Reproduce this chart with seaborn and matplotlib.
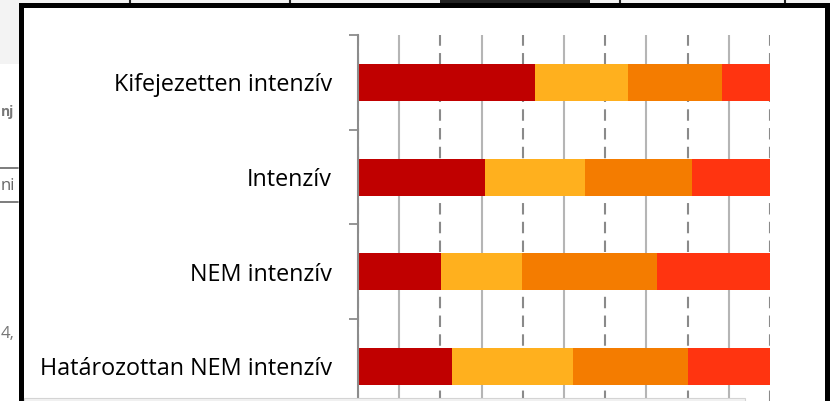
import numpy as np
import pandas as pd
import seaborn as sns
import matplotlib.pyplot as plt
from matplotlib.patches import Rectangle
from matplotlib.ticker import MultipleLocator

# adatok (szazalek), fentrol lefele
categories = ["Kifejezetten intenzív", "Intenzív", "NEM intenzív", "Határozottan NEM intenzív"]
seg1 = [43.0, 30.9, 20.1, 22.9]
seg2 = [22.6, 24.1, 19.7, 29.2]
seg3 = [22.7, 26.0, 32.7, 28.1]
seg4 = [11.7, 19.0, 27.5, 19.8]
colors = ["#C00000", "#FFB01E", "#F47C00", "#FF3410"]

sns.set_theme(style="white")
plt.rcParams['font.family'] = ['Open Sans', 'DejaVu Sans']

W, H = 830, 401
fig = plt.figure(figsize=(W / 100, H / 100), dpi=100, facecolor="#f3f3f3")

# hatter: a doboz mogotti dokumentum reszletei
fig.add_artist(Rectangle((0, 0), 1, 1 - 64 / H, transform=fig.transFigure,
                         facecolor="white", edgecolor="none", zorder=0))
for xv in [130, 290, 620, 785]:
    fig.add_artist(plt.Line2D([xv / W, xv / W], [1, 1 - 5 / H], transform=fig.transFigure,
                              color="#222222", lw=1.5, zorder=1))
fig.add_artist(Rectangle((440 / W, 1 - 5 / H), 150 / W, 5 / H, transform=fig.transFigure,
                         facecolor="#222222", edgecolor="none", zorder=1))
fig.text(1 / W, 1 - 112 / H, "nj", fontsize=10, color="#777777", fontweight="bold",
         va="center", zorder=1)
fig.add_artist(plt.Line2D([0, 18 / W], [1 - 168 / H, 1 - 168 / H], transform=fig.transFigure,
                          color="#666666", lw=1.2, zorder=1))
fig.add_artist(plt.Line2D([0, 18 / W], [1 - 202 / H, 1 - 202 / H], transform=fig.transFigure,
                          color="#666666", lw=1.2, zorder=1))
fig.text(1 / W, 1 - 186 / H, "ni", fontsize=12, color="#666666", va="center", zorder=1)
fig.text(1 / W, 1 - 334 / H, "4,", fontsize=12, color="#777777", va="center", zorder=1)

# a feher doboz fekete kerettel
fig.add_artist(Rectangle((21 / W, -20 / H), 806 / W, (H - 5 + 20) / H, transform=fig.transFigure,
                         facecolor="white", edgecolor="black", lw=3.6, zorder=2))

ax = fig.add_axes([358 / W, 1 - 413.8 / H, 412 / W, 378.8 / H])
ax.set_zorder(3)
ax.patch.set_alpha(0)

# halmozott savok: a kumulalt osszegeket hatulrol elore rajzoljuk
segs = np.array([seg1, seg2, seg3, seg4])
cum = segs.cumsum(axis=0)
for k in range(3, -1, -1):
    df = pd.DataFrame({"cat": categories, "val": cum[k]})
    sns.barplot(data=df, x="val", y="cat", orient="h", color=colors[k],
                saturation=1, width=0.39, linewidth=0, ax=ax)

ax.set_xlim(0, 100)
ax.set_ylim(3.5, -0.5)
ax.set_xlabel("")
ax.set_ylabel("")

ax.xaxis.set_major_locator(MultipleLocator(20))
ax.xaxis.set_minor_locator(MultipleLocator(10))
ax.set_axisbelow(True)
ax.grid(axis="x", which="major", color="#8a8a8a", lw=1.5, linestyle=(0, (5.5, 3.5)))
ax.grid(axis="x", which="minor", color="#b5b5b5", lw=1.5, linestyle="-")
ax.tick_params(axis="x", which="both", length=0, labelbottom=False)

ax.set_yticks([-0.5, 0.5, 1.5, 2.5, 3.5], minor=True)
ax.tick_params(axis="y", which="major", length=0, pad=18.7, labelsize=16.8, labelcolor="black")
ax.tick_params(axis="y", which="minor", length=6.5, width=1.3, color="#8c8c8c", left=True)

for s in ["top", "right", "bottom"]:
    ax.spines[s].set_visible(False)
ax.spines["left"].set_color("#8c8c8c")
ax.spines["left"].set_linewidth(1.5)

# also takaro sav
fig.add_artist(Rectangle((24 / W, 0), (745 - 24) / W, 3.5 / H, transform=fig.transFigure,
                         facecolor="#f2f2f2", edgecolor="#d4d4d4", lw=0.8, zorder=10))

fig.savefig("out.png", dpi=100, facecolor=fig.get_facecolor())
